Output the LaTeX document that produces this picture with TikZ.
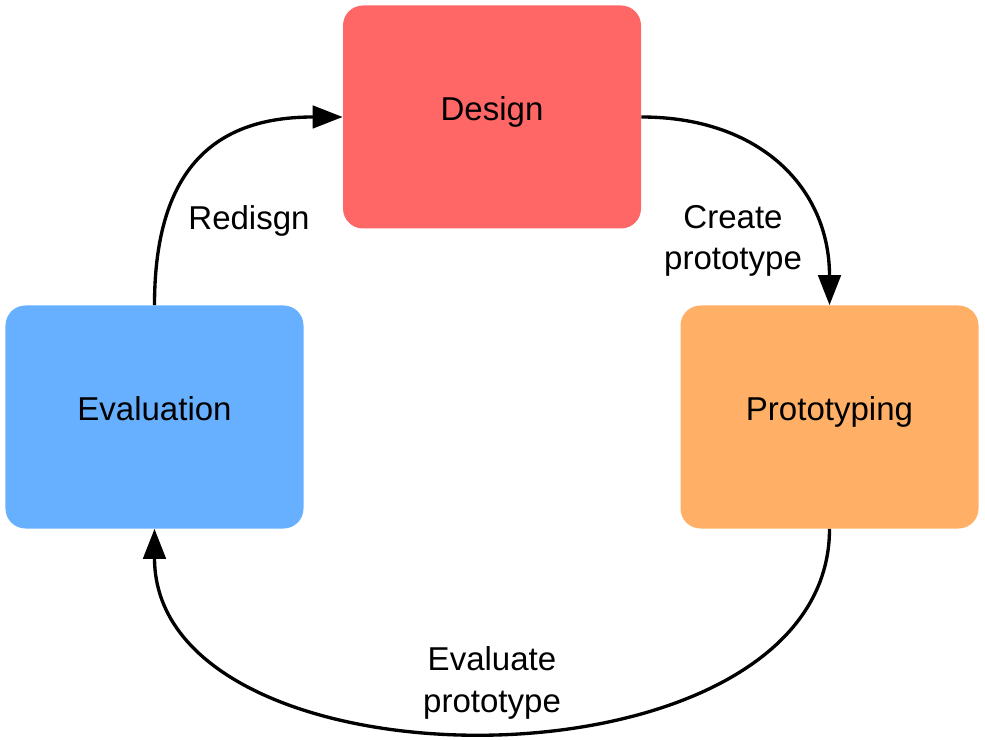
\documentclass[tikz,border=0pt]{standalone}
\usepackage{fontspec}
\setmainfont{Liberation Sans}
\usetikzlibrary{arrows.meta}
\definecolor{designred}{HTML}{FF6666}
\definecolor{evalblue}{HTML}{66B0FF}
\definecolor{protoorange}{HTML}{FFB066}

\begin{document}
\begin{tikzpicture}[
		phase/.style = {rounded corners = 0.4cm, minimum width = 5.96cm, minimum height = 4.46cm, inner sep = 0pt, text height = 0.73em, text depth = 0.3em, font = \fontsize{18.8}{23.5}\selectfont},
		lbl/.style = {align = center, font = \fontsize{18.8}{23.5}\selectfont},
		flow/.style = {line width = 1.9pt, -{Triangle[length = 0.6cm, width = 0.45cm]}}
		]
		\useasboundingbox (0,0) rectangle (19.7,14.78);
		\node[phase, fill = designred] (design) at (9.84,12.44) {Design};
		\node[phase, fill = evalblue] (eval) at (3.09,6.44) {Evaluation};
		\node[phase, fill = protoorange] (proto) at (16.59,6.44) {Prototyping};
		\node[lbl] (create) at (14.66,9.96) {Create\\prototype};
		\node[lbl] (evaluate) at (9.84,1.12) {Evaluate\\prototype};
		\node[lbl] (redesign) at (4.98,10.36) {Redisgn};
		\draw[flow] (design.east) .. controls (15.2,12.44) and (16.59,11.02) .. (proto.north);
		\draw[flow] (proto.south) .. controls (16.59,-1.2) and (3.09,-1.2) .. (eval.south);
		\draw[flow] (eval.north) .. controls (3.09,11.72) and (4.6,12.44) .. (design.west);
\end{tikzpicture}
\end{document}
